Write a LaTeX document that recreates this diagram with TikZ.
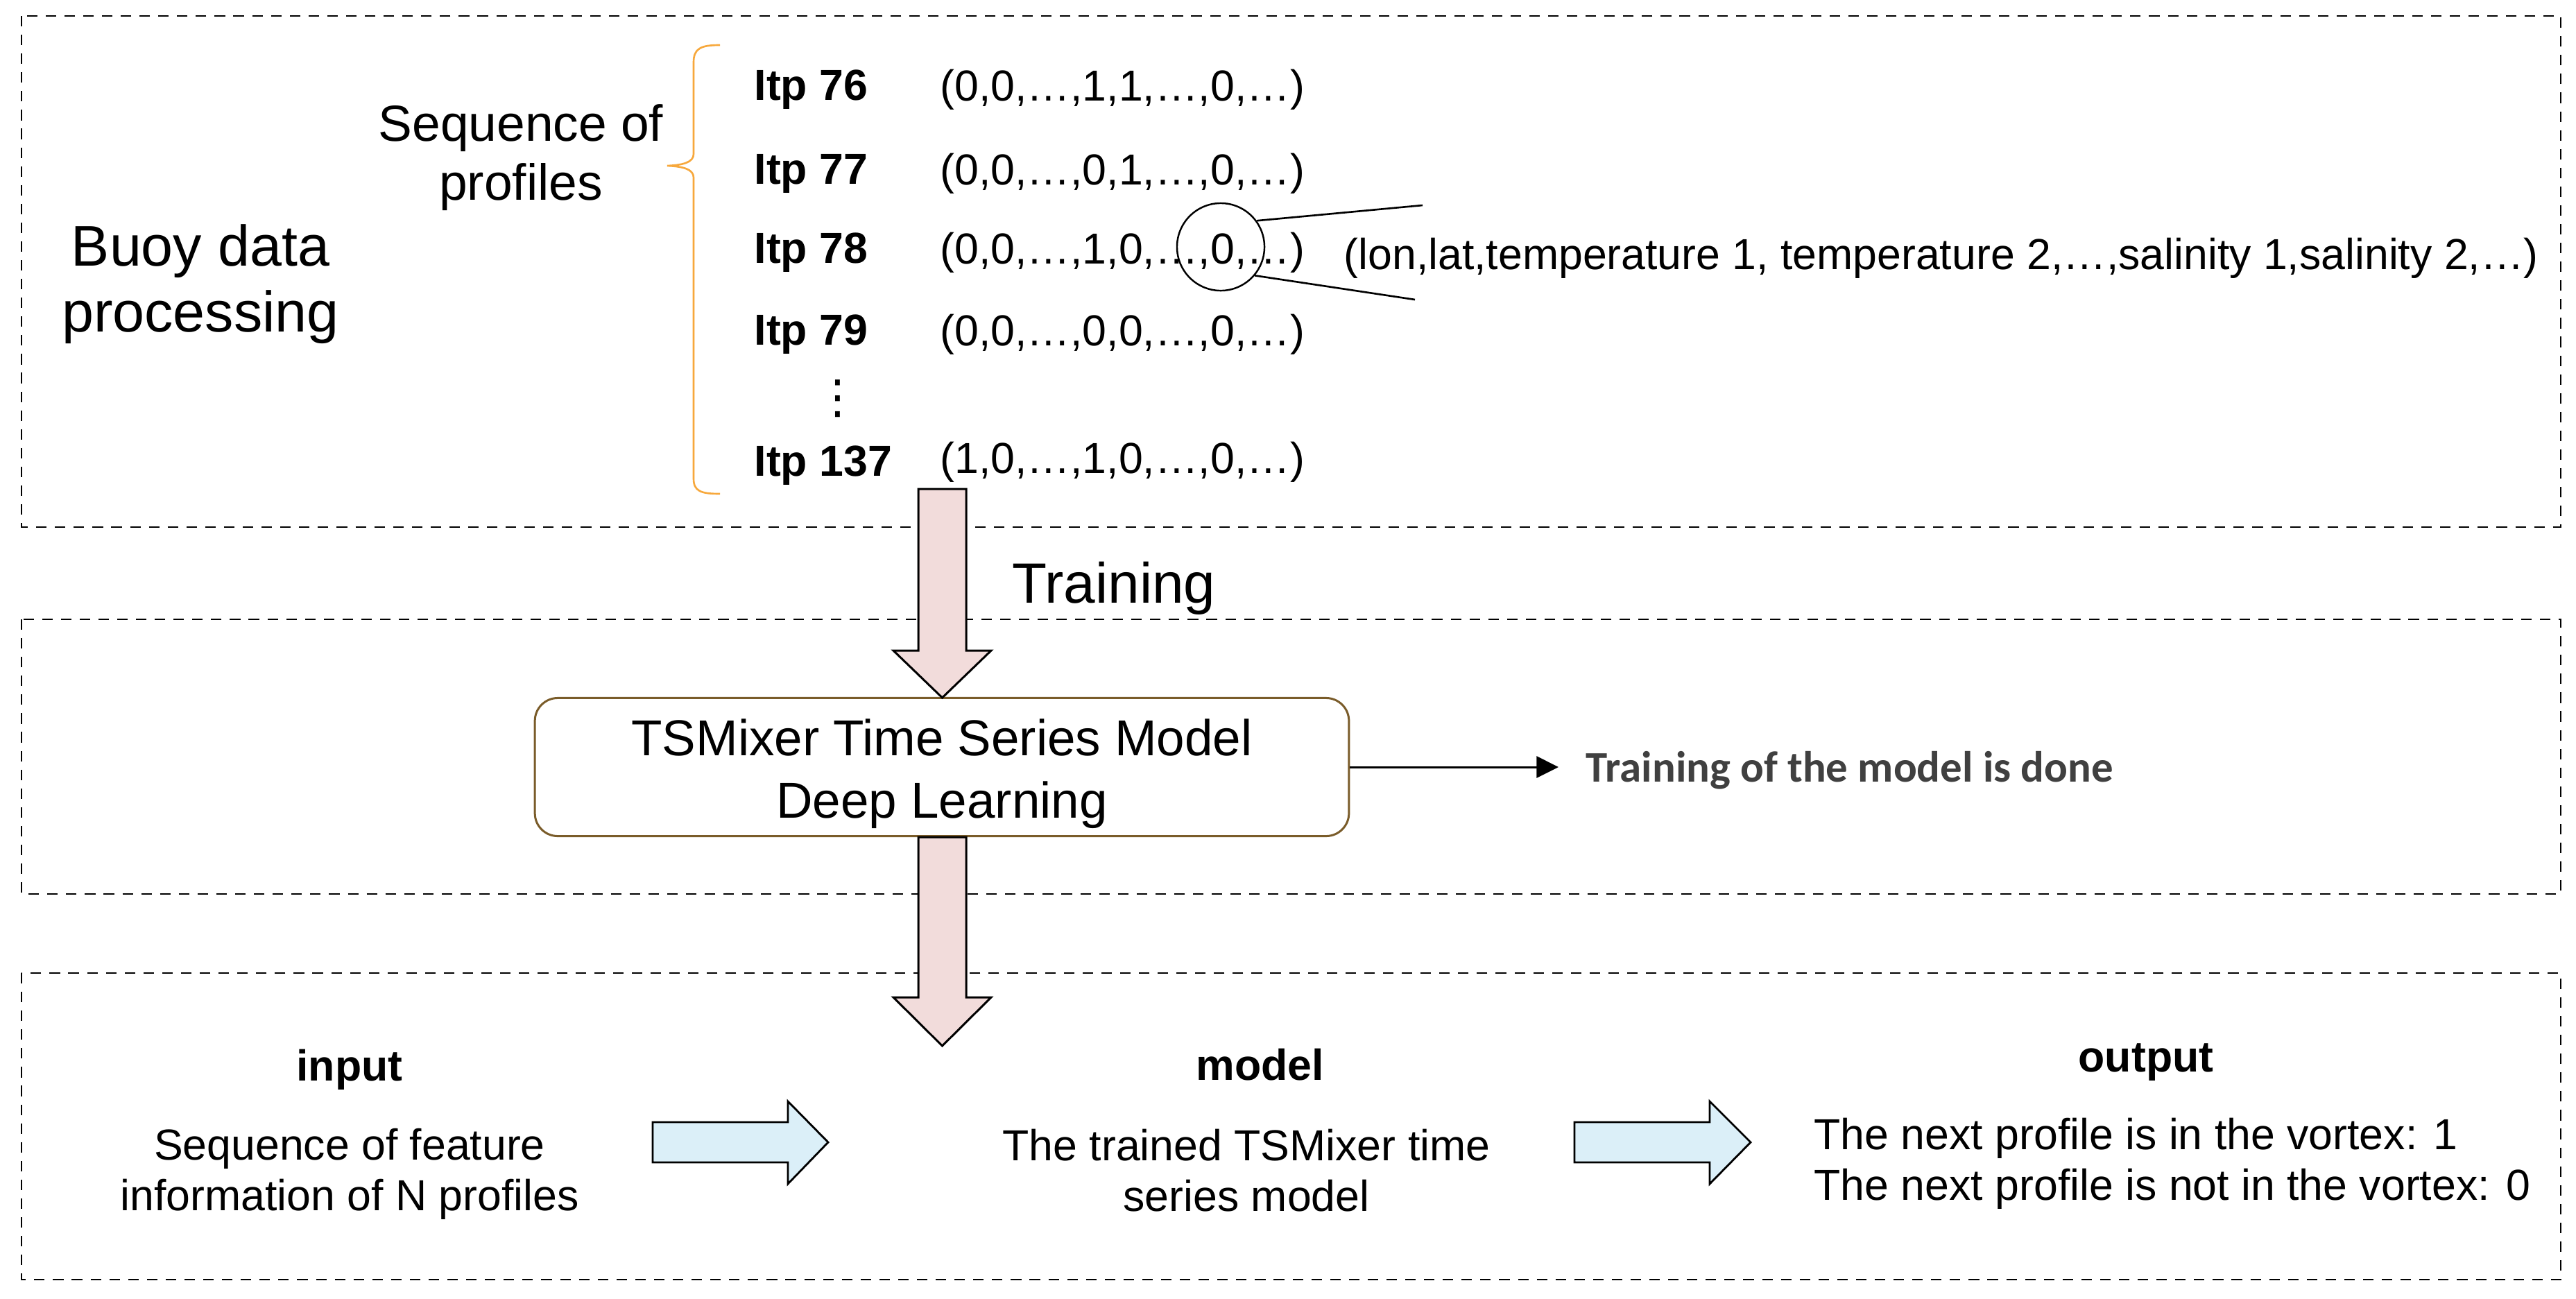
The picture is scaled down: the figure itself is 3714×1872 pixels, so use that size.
\documentclass[tikz,border=0pt]{standalone}
\usepackage{fontspec}
\setmainfont{Liberation Sans}
\newfontfamily\calib{Carlito}
\newfontfamily\dejavu{DejaVu Sans}
\usetikzlibrary{arrows.meta}
\definecolor{pinkfill}{RGB}{242,220,219}
\definecolor{bluefill}{RGB}{219,239,248}
\definecolor{bracecol}{RGB}{247,168,60}
\definecolor{boxbrown}{RGB}{122,92,42}
\definecolor{donegray}{RGB}{64,64,64}
\begin{document}
\begin{tikzpicture}[x=0.01cm,y=-0.01cm,
  dashbox/.style={draw=black, line width=0.8pt, dash pattern=on 4.3pt off 3.4pt},
  txt/.style={inner sep=0pt, align=center},
  body/.style={txt, font=\fontsize{17.8}{20.8}\selectfont},
  bodyb/.style={txt, font=\fontsize{17.8}{20.8}\selectfont\bfseries},
  bigtxt/.style={txt, font=\fontsize{23.5}{27}\selectfont},
  midtxt/.style={txt, font=\fontsize{20.8}{24.2}\selectfont},
  blockpink/.style={fill=pinkfill, draw=black, line width=0.85pt, line join=miter},
  blockblue/.style={fill=bluefill, draw=black, line width=0.8pt, line join=miter},
  thinline/.style={draw=black, line width=0.75pt}
]
\useasboundingbox (0,0) rectangle (3714,1872);
\fill[white] (0,0) rectangle (3714,1872);

% dashed section frames
\draw[dashbox] (31,23) rectangle (3692,760);
\draw[dashbox] (31,893) rectangle (3692,1289);
\draw[dashbox] (31,1403) rectangle (3692,1845);

% ---- section 1
\node[bigtxt] (buoy) at (289,410) {Buoy data\\processing};
\node[midtxt] (seq) at (751,227) {Sequence of\\profiles};

\draw[bracecol, line width=0.75pt]
  (1038,65) .. controls (1010,65) and (1000,70) .. (1000,90)
  -- (1000,222) .. controls (1000,234) and (985,238) .. (962,239)
  .. controls (985,240) and (1000,244) .. (1000,256)
  -- (1000,690) .. controls (1000,708) and (1010,712) .. (1038,712);

\node[bodyb, anchor=west] (l76) at (1087,129) {Itp 76};
\node[bodyb, anchor=west] (l77) at (1087,250) {Itp 77};
\node[bodyb, anchor=west] (l78) at (1087,364) {Itp 78};
\node[bodyb, anchor=west] (l79) at (1087,482) {Itp 79};
\node[txt, font=\dejavu\fontsize{19}{22}\selectfont] (vd) at (1208,575) {⋮};
\node[bodyb, anchor=west] (l137) at (1087,671) {Itp 137};

\node[body, anchor=west] (t76) at (1355,129) {(0,0,…,1,1,…,0,…)};
\node[body, anchor=west] (t77) at (1355,250) {(0,0,…,0,1,…,0,…)};
\node[body, anchor=west] (t78) at (1355,364) {(0,0,…,1,0,…,0,…)};
\node[body, anchor=west] (t79) at (1355,482) {(0,0,…,0,0,…,0,…)};
\node[body, anchor=west] (t137) at (1355,666) {(1,0,…,1,0,…,0,…)};

\node[draw=black, line width=0.7pt, circle, minimum size=1.26cm, inner sep=0pt] (circ) at (1760,356) {};
\coordinate (c1) at (2051,296);
\coordinate (c2) at (2040,432);
\draw[thinline] (circ.36) -- (c1);
\draw[thinline] (circ.-40) -- (c2);
\node[body, anchor=west] (feat) at (1937,372) {(lon,lat,temperature 1, temperature 2,…,salinity 1,salinity 2,…)};

% ---- section 2
\node[bigtxt, font=\fontsize{23.3}{27}\selectfont] (train) at (1606,848) {Training};
\node[draw=boxbrown, line width=0.85pt, rounded corners=0.33cm, minimum width=11.73cm, minimum height=1.99cm, inner sep=0pt] (tsm) at (1358,1106) {};
\node[txt, font=\fontsize{20.7}{25.6}\selectfont] (tsmtxt) at (1358,1116) {TSMixer Time Series Model\\Deep Learning};
\coordinate (donetip) at (2247,1106);
\draw[line width=0.85pt, -{Triangle[length=9pt,width=8.8pt]}] (tsm.east) -- (donetip);
\node[txt, anchor=west, text=donegray, font=\calib\fontsize{17.9}{21}\selectfont\bfseries] (done) at (2286,1111) {Training of the model is done};

% pink block arrows
\draw[blockpink] (1324,705) -- (1393,705) -- (1393,938) -- (1429,938) -- (1358.5,1006) -- (1288,938) -- (1324,938) -- cycle;
\draw[blockpink] (1324,1207) -- (1393,1207) -- (1393,1438) -- (1429,1438) -- (1358.5,1508) -- (1288,1438) -- (1324,1438) -- cycle;

% ---- section 3
\node[bodyb] (inp) at (504,1542) {input};
\node[body] (inptxt) at (504,1693) {Sequence of feature\\information of N profiles};
\node[bodyb] (mdl) at (1817,1535) {model};
\node[body] (mdltxt) at (1797,1688) {The trained TSMixer time\\series model};
\node[bodyb] (outp) at (3094,1532) {output};
\node[body, anchor=west, align=left] (outtxt) at (2615,1678) {The next profile is in the vortex: 1\\The next profile is not in the vortex: 0};

\draw[blockblue] (941,1618) -- (1136,1618) -- (1136,1588) -- (1194,1647) -- (1136,1707) -- (1136,1676) -- (941,1676) -- cycle;
\draw[blockblue] (2270,1618) -- (2465,1618) -- (2465,1588) -- (2524,1647) -- (2465,1707) -- (2465,1676) -- (2270,1676) -- cycle;
\end{tikzpicture}
\end{document}
